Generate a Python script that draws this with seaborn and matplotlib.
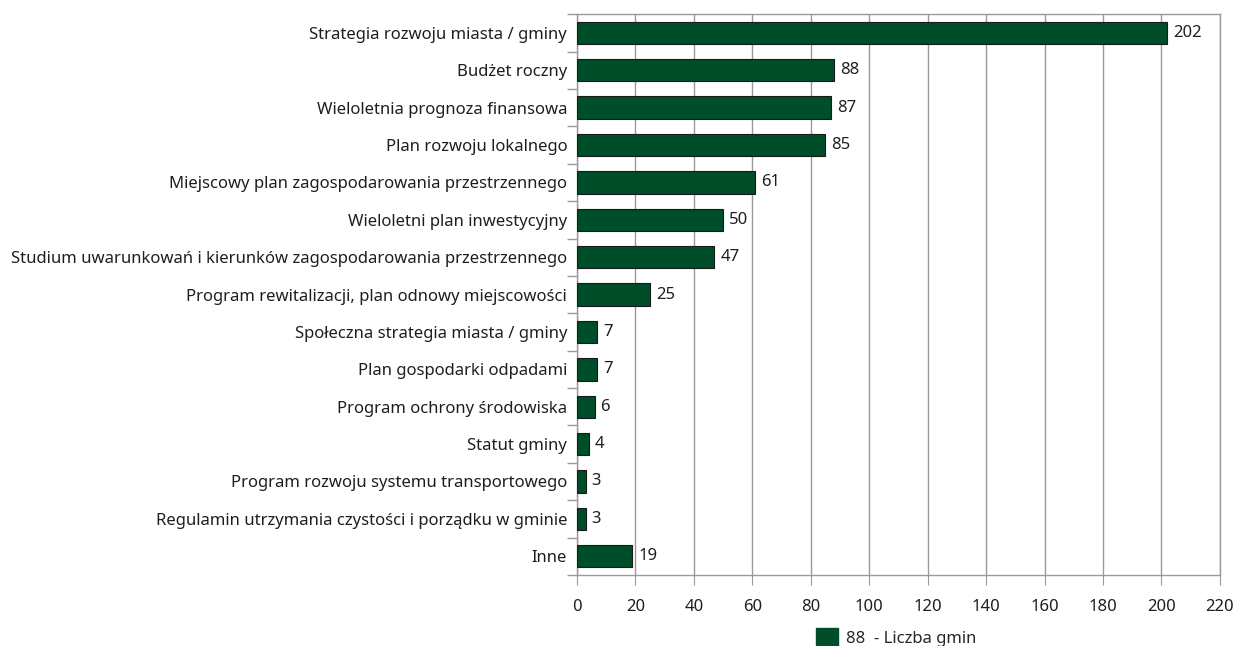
import matplotlib
matplotlib.use("Agg")
import matplotlib.pyplot as plt
import seaborn as sns
import pandas as pd
from matplotlib.patches import Patch

categories = [
    "Strategia rozwoju miasta / gminy",
    "Budżet roczny",
    "Wieloletnia prognoza finansowa",
    "Plan rozwoju lokalnego",
    "Miejscowy plan zagospodarowania przestrzennego",
    "Wieloletni plan inwestycyjny",
    "Studium uwarunkowań i kierunków zagospodarowania przestrzennego",
    "Program rewitalizacji, plan odnowy miejscowości",
    "Społeczna strategia miasta / gminy",
    "Plan gospodarki odpadami",
    "Program ochrony środowiska",
    "Statut gminy",
    "Program rozwoju systemu transportowego",
    "Regulamin utrzymania czystości i porządku w gminie",
    "Inne",
]
values = [202, 88, 87, 85, 61, 50, 47, 25, 7, 7, 6, 4, 3, 3, 19]
x_ticks = list(range(0, 221, 20))

BAR = "#004d2a"
GRID = "#9a9a9a"
TXT = "#1e1e1e"

df = pd.DataFrame({"doc": categories, "n": values})

sns.set_style("white")
plt.rcParams["font.family"] = ["Noto Sans", "DejaVu Sans"]
plt.rcParams["font.size"] = 12

fig = plt.figure(figsize=(12.36, 6.46), dpi=100)
ax = fig.add_axes([0.4668, 0.110, 0.987 - 0.4668, 0.978 - 0.110])

sns.barplot(data=df, x="n", y="doc", color=BAR, saturation=1, width=0.6,
            edgecolor="#1a1a1a", linewidth=0.8, ax=ax, zorder=3)

for i, v in enumerate(values):
    ax.text(v + 2, i, str(v), va="center", ha="left", fontsize=12, color=TXT)

ax.set_xlim(0, 220)
ax.set_ylim(len(categories) - 0.5, -0.5)
ax.set_xticks(x_ticks)
ax.xaxis.grid(True, color=GRID, linewidth=1, zorder=0)
ax.yaxis.grid(False)
ax.set_xlabel("")
ax.set_ylabel("")

for s in ax.spines.values():
    s.set_color(GRID)
    s.set_linewidth(1)

ax.tick_params(axis="x", bottom=True, length=7, color=GRID, labelsize=12, pad=10, labelcolor=TXT)
ax.tick_params(axis="y", which="major", left=False, length=0, labelsize=12, pad=7, labelcolor=TXT)
ax.set_yticks([i + 0.5 for i in range(-1, len(categories))], minor=True)
ax.tick_params(axis="y", which="minor", left=True, length=7, width=1, color=GRID)

handles = [Patch(facecolor=BAR, edgecolor=BAR, label="88  - Liczba gmin")]
fig.legend(handles=handles, loc="lower left", bbox_to_anchor=(0.648, -0.025),
           frameon=False, fontsize=12, handlelength=1.3, handleheight=1.3,
           handletextpad=0.5)

fig.savefig("out.png", dpi=100)
